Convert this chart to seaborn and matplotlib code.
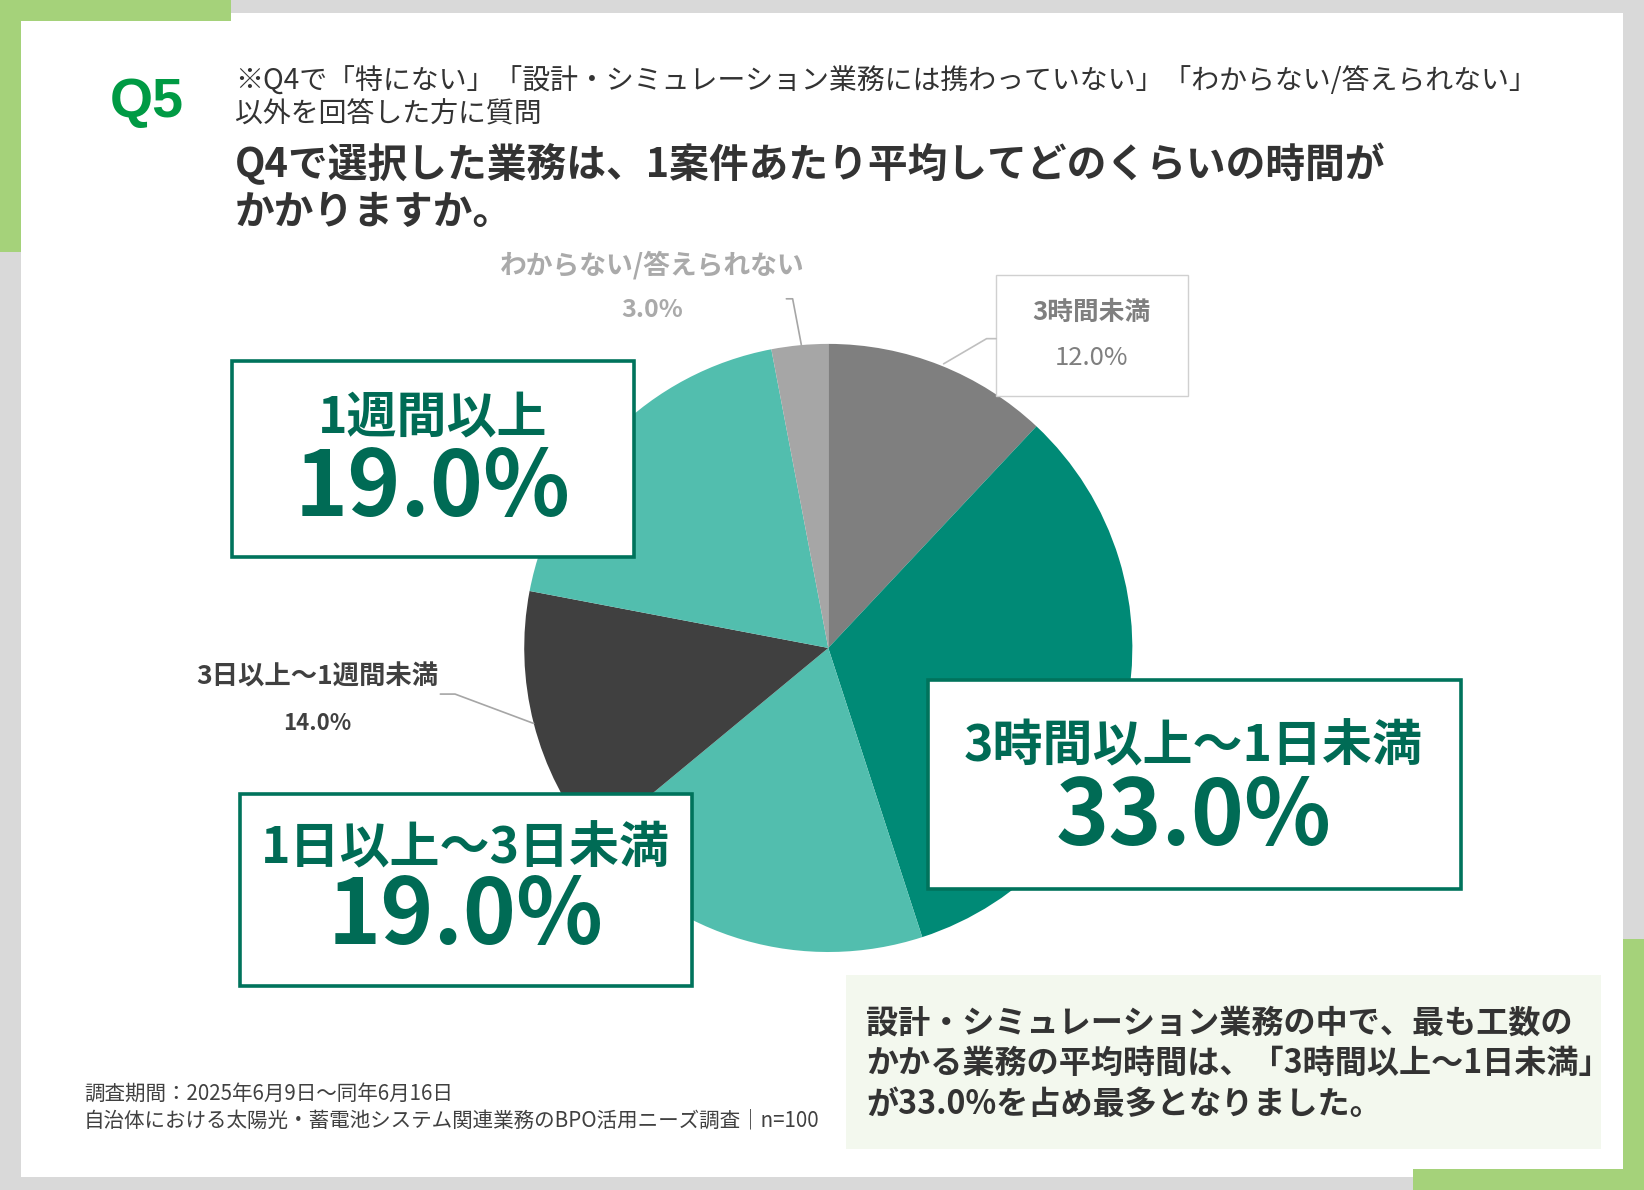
import matplotlib
matplotlib.use("Agg")
import matplotlib.pyplot as plt
from matplotlib.patches import Rectangle
import seaborn as sns

# ---------------- data ----------------
categories = ["3時間未満", "3時間以上～1日未満", "1日以上～3日未満",
              "3日以上～1週間未満", "1週間以上", "わからない/答えられない"]
values = [12.0, 33.0, 19.0, 14.0, 19.0, 3.0]
slice_colors = ["#7F7F7F", "#008A76", "#52BEAE", "#404040", "#52BEAE", "#A6A6A6"]

note_lines = ["※Q4で「特にない」「設計・シミュレーション業務には携わっていない」「わからない/答えられない」",
              "以外を回答した方に質問"]
title_lines = ["Q4で選択した業務は、1案件あたり平均してどのくらいの時間が",
               "かかりますか。"]
summary_lines = ["設計・シミュレーション業務の中で、最も工数の",
                 "かかる業務の平均時間は、「3時間以上～1日未満」",
                 "が33.0%を占め最多となりました。"]
footer_lines = ["調査期間：2025年6月9日～同年6月16日",
                "自治体における太陽光・蓄電池システム関連業務のBPO活用ニーズ調査｜n=100"]

sns.set_theme(style="white")
plt.rcParams['font.family'] = ['Noto Sans CJK JP', 'DejaVu Sans']

W, H = 1568, 1135
fig = plt.figure(figsize=(16.44, 11.90), dpi=100)
ax = fig.add_axes([0, 0, 1, 1])

GREEN_ACC = "#A5D27A"
DARKG = "#006B55"
EDGEG = "#00735C"

# pie (data coordinates in display-like pixel space, y downward)
ax.pie(values, colors=slice_colors, startangle=-90, counterclock=True,
       center=(790, 618), radius=290, wedgeprops=dict(linewidth=0, zorder=2))
ax.set_xlim(0, W)
ax.set_ylim(H, 0)
ax.set_aspect('auto')
ax.axis('off')

# background frame
ax.add_patch(Rectangle((0, 0), W, H, facecolor="#D9D9D9", edgecolor="none", zorder=0))
ax.add_patch(Rectangle((20, 12), 1528, 1111, facecolor="white", edgecolor="none", zorder=0.5))
ax.add_patch(Rectangle((0, 0), 220, 20, facecolor=GREEN_ACC, edgecolor="none", zorder=0.6))
ax.add_patch(Rectangle((0, 0), 20, 240, facecolor=GREEN_ACC, edgecolor="none", zorder=0.6))
ax.add_patch(Rectangle((1548, 896), 20, 239, facecolor=GREEN_ACC, edgecolor="none", zorder=0.6))
ax.add_patch(Rectangle((1348, 1115), 220, 20, facecolor=GREEN_ACC, edgecolor="none", zorder=0.6))

# header
ax.text(105, 98, "Q5", fontsize=40, fontweight='bold', color="#009A44",
        family=['Liberation Sans', 'DejaVu Sans'], ha='left', va='center', zorder=5)
ax.text(224, 78, note_lines[0], fontsize=20.1, color="#333333", ha='left', va='center', zorder=5)
ax.text(224, 109, note_lines[1], fontsize=20.1, color="#333333", ha='left', va='center', zorder=5)
ax.text(224, 157, title_lines[0], fontsize=28.6, fontweight='bold', color="#333333",
        ha='left', va='center', zorder=5)
ax.text(224, 203, title_lines[1], fontsize=28.6, fontweight='bold', color="#333333",
        ha='left', va='center', zorder=5)

# small labels
ax.text(622, 253, categories[5], fontsize=19.3, fontweight='bold', color="#AAAAAA",
        ha='center', va='center', zorder=5)
ax.text(622, 296, f"{values[5]:.1f}%", fontsize=18, fontweight='bold', color="#AAAAAA",
        ha='center', va='center', zorder=5)
ax.plot([750, 756, 764.5], [285, 285, 330], color="#A6A6A6", lw=1.2, zorder=4)

ax.add_patch(Rectangle((950, 262), 183, 116, facecolor="white", edgecolor="#D0D0D0",
                       lw=1.0, zorder=4))
ax.text(1041, 298, categories[0], fontsize=18.5, fontweight='bold', color="#7F7F7F",
        ha='center', va='center', zorder=5)
ax.text(1041, 341, f"{values[0]:.1f}%", fontsize=18.5, color="#7F7F7F",
        ha='center', va='center', zorder=5)
ax.plot([900, 941, 950], [347, 323, 323], color="#BFBFBF", lw=1.2, zorder=4)

ax.text(303, 646, categories[3], fontsize=19, fontweight='bold', color="#404040",
        ha='center', va='center', zorder=5)
ax.text(303, 690, f"{values[3]:.1f}%", fontsize=16, fontweight='bold', color="#404040",
        ha='center', va='center', zorder=5)
ax.plot([420, 434, 509], [662, 662, 690], color="#A6A6A6", lw=1.2, zorder=4)

# big boxes
def big_box(x0, y0, x1, y1, label, val, cx, ly, vy):
    ax.add_patch(Rectangle((x0, y0), x1 - x0, y1 - y0, facecolor="white",
                           edgecolor=EDGEG, lw=2.6, zorder=6))
    ax.text(cx, ly, label, fontsize=36, fontweight='bold', color=DARKG,
            ha='center', va='center', zorder=7)
    ax.text(cx, vy, f"{val:.1f}%", fontsize=65, fontweight='bold', color=DARKG,
            ha='center', va='center', zorder=7)

big_box(221, 344, 605, 531, categories[4], values[4], 413, 399, 467)
big_box(885, 649, 1393, 848, categories[1], values[1], 1138, 712, 780)
big_box(229, 757, 660, 940, categories[2], values[2], 444, 810, 875)

# summary box
ax.add_patch(Rectangle((807, 930), 720, 166, facecolor="#F3F8EE", edgecolor="none", zorder=3))
for i, line in enumerate(summary_lines):
    ax.text(826, 976 + i * 38.5, line, fontsize=23.1, fontweight='bold', color="#333333",
            ha='left', va='center', zorder=5)

# footer
ax.text(80, 1043, footer_lines[0], fontsize=14.8, color="#404040", ha='left', va='center', zorder=5)
ax.text(80, 1069, footer_lines[1], fontsize=14.8, color="#404040", ha='left', va='center', zorder=5)

fig.savefig("out.png", dpi=100)
